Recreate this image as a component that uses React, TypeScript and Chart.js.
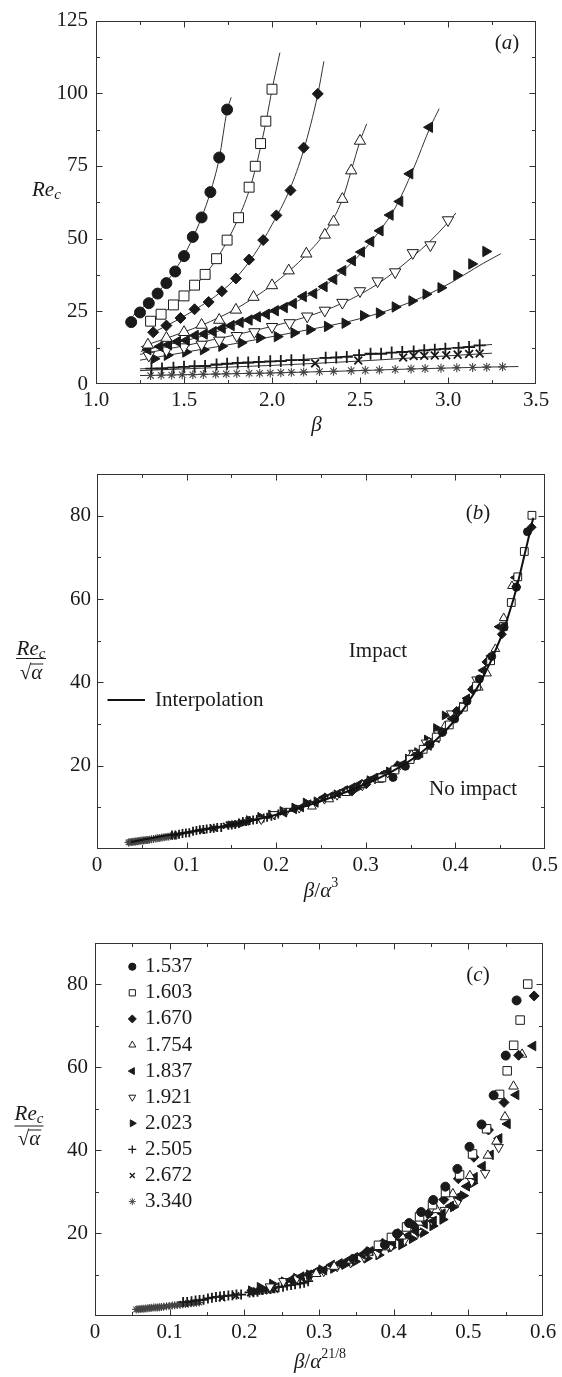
import React, { useEffect, useRef } from 'react';
import { Chart, registerables } from 'chart.js';
import { drawPoint } from 'chart.js/helpers';

Chart.register(...registerables);

const FONT = "'Liberation Serif', 'Times New Roman', Times, serif";
const INK = '#1a1a1a';
Chart.defaults.font.family = FONT;

// ---------- data: alpha values (legend) ----------
const ALPHA = [1.537, 1.603, 1.670, 1.754, 1.837, 1.921, 2.023, 2.505, 2.672, 3.340];
const ALPHA_LABELS = ['1.537', '1.603', '1.670', '1.754', '1.837', '1.921', '2.023', '2.505', '2.672', '3.340'];

// ---------- measured points (panel a: beta, Re_c) ----------
const BETA_1537 = [1.20, 1.25, 1.30, 1.35, 1.40, 1.45, 1.50, 1.55, 1.60, 1.65, 1.70, 1.745];
const RE_1537 = [21.3, 24.6, 27.8, 31.1, 34.7, 38.7, 44.0, 50.6, 57.3, 66.0, 77.9, 94.4];

const BETA_1603 = [1.31, 1.37, 1.44, 1.50, 1.56, 1.62, 1.685, 1.745, 1.81, 1.87, 1.905, 1.935, 1.965, 2.0];
const RE_1603 = [21.6, 24.0, 27.2, 30.3, 34.0, 37.7, 43.1, 49.5, 57.2, 67.7, 74.9, 82.7, 90.4, 101.4];

const BETA_1670 = [1.325, 1.40, 1.48, 1.56, 1.64, 1.715, 1.795, 1.87, 1.95, 2.025, 2.105, 2.18, 2.26];
const RE_1670 = [17.8, 20.1, 22.7, 25.7, 28.2, 31.9, 36.3, 42.8, 49.5, 58.0, 66.6, 81.3, 99.8];

const BETA_1754 = [1.295, 1.40, 1.50, 1.60, 1.70, 1.795, 1.895, 2.0, 2.095, 2.195, 2.30, 2.35, 2.40, 2.45, 2.50];
const RE_1754 = [13.5, 15.8, 17.8, 20.3, 22.0, 25.5, 29.9, 33.9, 39.0, 44.8, 51.3, 55.8, 63.6, 73.4, 83.6];

const BETA_1837 = [1.295, 1.363, 1.412, 1.463, 1.513, 1.564, 1.615, 1.666, 1.717, 1.768, 1.819, 1.870, 1.917, 1.968, 2.019, 2.070, 2.121, 2.178, 2.237, 2.296, 2.351, 2.402, 2.457, 2.508, 2.561, 2.614, 2.671, 2.726, 2.783, 2.895];
const RE_1837 = [11.8, 12.9, 13.5, 14.6, 15.0, 16.7, 17.2, 18.0, 19.2, 20.1, 21.2, 22.0, 23.1, 24.0, 25.2, 26.3, 27.7, 30.1, 31.1, 33.5, 36.0, 39.0, 42.4, 45.4, 49.0, 52.7, 58.1, 62.8, 72.3, 88.3];

const BETA_1921 = [1.30, 1.40, 1.50, 1.60, 1.70, 1.80, 1.90, 2.0, 2.10, 2.20, 2.30, 2.40, 2.50, 2.60, 2.70, 2.80, 2.90, 3.0];
const RE_1921 = [9.8, 11.6, 12.7, 13.6, 15.0, 16.6, 17.9, 19.7, 21.0, 23.3, 25.3, 28.0, 32.0, 35.4, 38.5, 45.1, 47.8, 56.4];

const BETA_2023 = [1.33, 1.405, 1.51, 1.61, 1.715, 1.825, 1.93, 2.03, 2.125, 2.215, 2.315, 2.415, 2.52, 2.61, 2.70, 2.795, 2.875, 2.96, 3.05, 3.135, 3.215];
const RE_2023 = [8.7, 9.9, 11.0, 11.8, 13.0, 14.2, 15.9, 16.3, 17.6, 18.7, 19.8, 20.9, 23.5, 24.4, 26.5, 28.6, 30.9, 33.1, 37.4, 41.3, 45.6];

const BETA_2505 = [1.315, 1.375, 1.44, 1.50, 1.56, 1.62, 1.685, 1.745, 1.805, 1.865, 1.925, 1.99, 2.05, 2.11, 2.18, 2.305, 2.365, 2.425, 2.495, 2.56, 2.62, 2.68, 2.74, 2.805, 2.865, 2.925, 2.985, 3.06, 3.12, 3.18];
const RE_2505 = [5.3, 5.3, 5.6, 5.9, 6.1, 6.2, 6.7, 7.0, 7.3, 7.4, 7.6, 7.8, 7.9, 8.2, 8.2, 9.0, 9.1, 9.3, 9.9, 10.4, 10.4, 10.8, 11.0, 11.2, 11.6, 11.8, 12.1, 12.4, 12.7, 13.3];

const BETA_2672 = [2.245, 2.49, 2.745, 2.805, 2.865, 2.925, 2.99, 3.055, 3.12, 3.18];
const RE_2672 = [7.1, 8.1, 9.1, 9.6, 9.7, 9.8, 9.9, 10.1, 10.3, 10.5];

const BETA_3340 = [1.31, 1.37, 1.43, 1.49, 1.55, 1.61, 1.68, 1.74, 1.80, 1.87, 1.93, 1.99, 2.05, 2.11, 2.18, 2.27, 2.35, 2.45, 2.53, 2.61, 2.70, 2.79, 2.87, 2.96, 3.05, 3.14, 3.22, 3.31];
const RE_3340 = [2.9, 3.0, 3.1, 3.2, 3.2, 3.3, 3.4, 3.5, 3.6, 3.7, 3.7, 3.8, 3.9, 4.0, 4.1, 4.3, 4.4, 4.6, 4.7, 4.8, 5.0, 5.2, 5.3, 5.4, 5.6, 5.7, 5.8, 5.9];

// ---------- fitted curves in panel a ----------
const FIT_BETA_1537 = [1.21, 1.30, 1.40, 1.50, 1.60, 1.65, 1.70, 1.745, 1.768];
const FIT_RE_1537 = [23.5, 28.2, 35.0, 44.2, 57.3, 66.0, 77.6, 94.0, 98.6];
const FIT_BETA_1603 = [1.31, 1.40, 1.50, 1.60, 1.70, 1.80, 1.87, 1.91, 1.94, 1.97, 2.00, 2.045];
const FIT_RE_1603 = [21.8, 25.3, 30.3, 36.2, 44.4, 55.8, 66.5, 75.0, 82.8, 91.5, 101.2, 114.0];
const FIT_BETA_1670 = [1.32, 1.40, 1.50, 1.60, 1.70, 1.80, 1.90, 2.00, 2.10, 2.18, 2.26, 2.295];
const FIT_RE_1670 = [17.6, 20.0, 23.3, 27.0, 31.2, 36.8, 44.6, 54.8, 66.8, 80.5, 99.6, 111.0];
const FIT_BETA_1754 = [1.255, 1.30, 1.40, 1.50, 1.60, 1.70, 1.80, 1.90, 2.00, 2.10, 2.20, 2.30, 2.40, 2.45, 2.50, 2.538];
const FIT_RE_1754 = [12.8, 13.7, 15.7, 17.9, 20.2, 22.9, 26.0, 29.8, 34.0, 39.0, 44.8, 52.0, 63.5, 73.3, 83.5, 89.5];
const FIT_BETA_1837 = [1.255, 1.30, 1.40, 1.50, 1.60, 1.70, 1.80, 1.90, 2.00, 2.10, 2.20, 2.30, 2.40, 2.50, 2.60, 2.70, 2.80, 2.90, 2.95];
const FIT_RE_1837 = [11.2, 12.0, 13.4, 14.8, 16.4, 18.3, 20.5, 22.6, 24.8, 27.3, 30.2, 33.8, 38.7, 44.6, 51.8, 60.6, 73.5, 88.5, 94.7];
const FIT_BETA_1921 = [1.25, 1.30, 1.40, 1.50, 1.60, 1.70, 1.80, 1.90, 2.00, 2.10, 2.20, 2.30, 2.40, 2.50, 2.60, 2.70, 2.80, 2.90, 3.00, 3.045];
const FIT_RE_1921 = [10.2, 10.8, 12.0, 13.1, 14.4, 15.7, 17.0, 18.4, 19.8, 21.4, 23.2, 25.3, 27.8, 30.8, 34.4, 38.8, 43.8, 49.2, 55.6, 58.8];
const FIT_BETA_2023 = [1.25, 1.40, 1.60, 1.80, 2.00, 2.20, 2.40, 2.60, 2.80, 3.00, 3.20, 3.30];
const FIT_RE_2023 = [8.2, 9.8, 11.9, 14.0, 16.3, 18.6, 21.0, 24.2, 28.5, 34.3, 41.5, 44.8];
const FIT_BETA_2505 = [1.25, 1.50, 1.75, 2.00, 2.25, 2.50, 2.75, 3.00, 3.25];
const FIT_RE_2505 = [5.2, 5.9, 6.8, 7.7, 8.8, 9.9, 11.1, 12.3, 13.6];
const FIT_BETA_2672 = [1.25, 1.50, 1.75, 2.00, 2.25, 2.50, 2.75, 3.00, 3.25];
const FIT_RE_2672 = [4.6, 5.2, 5.8, 6.4, 7.1, 7.9, 8.8, 9.7, 10.6];
const FIT_BETA_3340 = [1.25, 1.50, 1.75, 2.00, 2.25, 2.50, 2.75, 3.00, 3.25, 3.40];
const FIT_RE_3340 = [2.9, 3.2, 3.5, 3.8, 4.2, 4.6, 5.1, 5.5, 5.85, 6.0];

// ---------- interpolation curve of panel b (beta/alpha^3, Re_c/sqrt(alpha)) ----------
const INTERP_X = [0.038, 0.06, 0.10, 0.15, 0.20, 0.25, 0.30, 0.33, 0.36, 0.39, 0.41, 0.43, 0.45, 0.465, 0.475, 0.487];
const INTERP_Y = [1.7, 2.6, 4.0, 5.8, 8.2, 11.5, 15.6, 18.7, 22.8, 28.6, 33.8, 40.8, 50.3, 60.0, 68.5, 79.5];

// ---------- tick values ----------
const X_TICKS_A = [1.0, 1.5, 2.0, 2.5, 3.0, 3.5];
const X_MINOR_A = [1.25, 1.75, 2.25, 2.75, 3.25];
const Y_TICKS_A = [0, 25, 50, 75, 100, 125];
const Y_MINOR_A = [12.5, 37.5, 62.5, 87.5, 112.5];
const X_TICKS_B = [0, 0.1, 0.2, 0.3, 0.4, 0.5];
const X_MINOR_B = [0.05, 0.15, 0.25, 0.35, 0.45];
const X_TICKS_C = [0, 0.1, 0.2, 0.3, 0.4, 0.5, 0.6];
const X_MINOR_C = [0.05, 0.15, 0.25, 0.35, 0.45, 0.55];
const Y_TICKS_BC = [20, 40, 60, 80];
const Y_MINOR_BC = [10, 30, 50, 70];

const BETA_SETS = [BETA_1537, BETA_1603, BETA_1670, BETA_1754, BETA_1837, BETA_1921, BETA_2023, BETA_2505, BETA_2672, BETA_3340];
const RE_SETS = [RE_1537, RE_1603, RE_1670, RE_1754, RE_1837, RE_1921, RE_2023, RE_2505, RE_2672, RE_3340];
const FIT_BETA_SETS = [FIT_BETA_1537, FIT_BETA_1603, FIT_BETA_1670, FIT_BETA_1754, FIT_BETA_1837, FIT_BETA_1921, FIT_BETA_2023, FIT_BETA_2505, FIT_BETA_2672, FIT_BETA_3340];
const FIT_RE_SETS = [FIT_RE_1537, FIT_RE_1603, FIT_RE_1670, FIT_RE_1754, FIT_RE_1837, FIT_RE_1921, FIT_RE_2023, FIT_RE_2505, FIT_RE_2672, FIT_RE_3340];

// ---------- marker styles ----------
type Marker = { ps: string; filled: boolean; rot: number; rA: number; rB: number; rC: number; rL: number; w: number; color: string };
const MARKERS: Marker[] = [
  { ps: 'circle', filled: true, rot: 0, rA: 5.5, rB: 4, rC: 4.5, rL: 3.6, w: 1, color: INK },
  { ps: 'rect', filled: false, rot: 0, rA: 7, rB: 5.5, rC: 6, rL: 4.4, w: 1, color: INK },
  { ps: 'rectRot', filled: true, rot: 0, rA: 5.5, rB: 4.5, rC: 5, rL: 4, w: 1, color: INK },
  { ps: 'triangle', filled: false, rot: 0, rA: 6.5, rB: 5, rC: 5.5, rL: 4, w: 1, color: INK },
  { ps: 'triangle', filled: true, rot: 270, rA: 6, rB: 5, rC: 5.5, rL: 4, w: 1, color: INK },
  { ps: 'triangle', filled: false, rot: 180, rA: 6.5, rB: 5, rC: 5.5, rL: 4, w: 1, color: INK },
  { ps: 'triangle', filled: true, rot: 90, rA: 6, rB: 5, rC: 5.5, rL: 4, w: 1, color: INK },
  { ps: 'cross', filled: false, rot: 0, rA: 6, rB: 4.5, rC: 5, rL: 4, w: 1.8, color: INK },
  { ps: 'crossRot', filled: false, rot: 0, rA: 5.5, rB: 4, rC: 4.5, rL: 3.5, w: 1.8, color: INK },
  { ps: 'star', filled: false, rot: 0, rA: 4.5, rB: 4, rC: 4, rL: 3.5, w: 1.1, color: '#444' },
];

// ---------- panel geometry ----------
type PanelCfg = {
  key: string; top: number; height: number; left: number; right: number; areaTop: number; areaBottom: number;
  xMin: number; xMax: number; yMin: number; yMax: number;
  xTicks: number[]; xMinor: number[]; yTicks: number[]; yMinor: number[];
  xFmt: (v: number) => string; yPad: number;
};
const W = 562;
const PANEL_A: PanelCfg = { key: 'a', top: 0, height: 445, left: 96, right: 536, areaTop: 17, areaBottom: 384, xMin: 1, xMax: 3.5, yMin: 0, yMax: 125, xTicks: X_TICKS_A, xMinor: X_MINOR_A, yTicks: Y_TICKS_A, yMinor: Y_MINOR_A, xFmt: (v) => v.toFixed(1), yPad: 8 };
const PANEL_B: PanelCfg = { key: 'b', top: 445, height: 465, left: 97, right: 547, areaTop: 29, areaBottom: 404, xMin: 0, xMax: 0.5, yMin: 0, yMax: 90, xTicks: X_TICKS_B, xMinor: X_MINOR_B, yTicks: Y_TICKS_BC, yMinor: Y_MINOR_BC, xFmt: (v) => (v === 0 ? '0' : v.toFixed(1)), yPad: 6 };
const PANEL_C: PanelCfg = { key: 'c', top: 910, height: 467, left: 95, right: 543, areaTop: 33, areaBottom: 406, xMin: 0, xMax: 0.6, yMin: 0, yMax: 90, xTicks: X_TICKS_C, xMinor: X_MINOR_C, yTicks: Y_TICKS_BC, yMinor: Y_MINOR_BC, xFmt: (v) => (v === 0 ? '0' : v.toFixed(1)), yPad: 7 };
const X_AXIS_H = 30;

// ---------- text helpers ----------
type Part = { t: string; it?: boolean; sz?: number; dy?: number };
function fontOf(p: Part, base: number) {
  return `${p.it ? 'italic ' : ''}${p.sz ?? base}px ${FONT}`;
}
function drawParts(ctx: CanvasRenderingContext2D, parts: Part[], x: number, y: number, align: 'left' | 'center' | 'right', base = 21) {
  ctx.save();
  ctx.textBaseline = 'middle';
  ctx.textAlign = 'left';
  ctx.fillStyle = INK;
  const widths = parts.map((p) => { ctx.font = fontOf(p, base); return ctx.measureText(p.t).width; });
  const total = widths.reduce((a, b) => a + b, 0);
  let cx = align === 'left' ? x : align === 'center' ? x - total / 2 : x - total;
  parts.forEach((p, i) => {
    ctx.font = fontOf(p, base);
    ctx.fillText(p.t, cx, y + (p.dy ?? 0));
    cx += widths[i];
  });
  ctx.restore();
}
function drawFraction(ctx: CanvasRenderingContext2D, cx: number, yNum: number, yBar: number, yDen: number, half: number) {
  drawParts(ctx, [{ t: 'Re', it: true }, { t: 'c', it: true, sz: 15, dy: 5 }], cx, yNum, 'center');
  ctx.save();
  ctx.strokeStyle = INK;
  ctx.lineWidth = 1;
  ctx.beginPath();
  ctx.moveTo(cx - half, yBar);
  ctx.lineTo(cx + half, yBar);
  ctx.stroke();
  ctx.textBaseline = 'middle';
  ctx.fillStyle = INK;
  ctx.font = `21px ${FONT}`;
  const wS = ctx.measureText('√').width;
  ctx.font = `italic 21px ${FONT}`;
  const wA = ctx.measureText('α').width;
  const x0 = cx - (wS + wA) / 2;
  ctx.font = `21px ${FONT}`;
  ctx.fillText('√', x0, yDen);
  ctx.font = `italic 21px ${FONT}`;
  ctx.fillText('α', x0 + wS, yDen);
  ctx.beginPath();
  ctx.moveTo(x0 + wS - 1, yDen - 9.5);
  ctx.lineTo(x0 + wS + wA + 1, yDen - 9.5);
  ctx.stroke();
  ctx.restore();
}

// ---------- plugin: frame, inward ticks, annotations ----------
function framePlugin(cfg: PanelCfg, extra: (ctx: CanvasRenderingContext2D, chart: any) => void) {
  return {
    id: 'frame_' + cfg.key,
    afterDraw(chart: any) {
      const { ctx, chartArea: ca, scales } = chart;
      const xs = scales.x;
      const ys = scales.y;
      const L = Math.round(ca.left) + 0.5;
      const R = Math.round(ca.right) - 0.5;
      const T = Math.round(ca.top) + 0.5;
      const B = Math.round(ca.bottom) - 0.5;
      ctx.save();
      ctx.strokeStyle = '#333';
      ctx.lineWidth = 1;
      ctx.strokeRect(L, T, R - L, B - T);
      ctx.beginPath();
      const xGroups: [number[], number][] = [[cfg.xTicks, 6], [cfg.xMinor, 3.5]];
      xGroups.forEach(([vals, len]) => vals.forEach((v) => {
        const px = Math.round(xs.getPixelForValue(v)) + 0.5;
        if (px <= L + 1 || px >= R - 1) return;
        ctx.moveTo(px, B); ctx.lineTo(px, B - len);
        ctx.moveTo(px, T); ctx.lineTo(px, T + len);
      }));
      const yGroups: [number[], number][] = [[cfg.yTicks, 6], [cfg.yMinor, 3.5]];
      yGroups.forEach(([vals, len]) => vals.forEach((v) => {
        const py = Math.round(ys.getPixelForValue(v)) + 0.5;
        if (py <= T + 1 || py >= B - 1) return;
        ctx.moveTo(L, py); ctx.lineTo(L + len, py);
        ctx.moveTo(R, py); ctx.lineTo(R - len, py);
      }));
      ctx.stroke();
      ctx.restore();
      extra(ctx, chart);
    },
  };
}

// ---------- dataset builders ----------
function markerDataset(i: number, pts: { x: number; y: number }[], r: number) {
  const m = MARKERS[i];
  const fill = m.filled ? m.color : '#ffffff';
  return {
    label: ALPHA_LABELS[i],
    data: pts,
    showLine: false,
    pointStyle: m.ps,
    pointRotation: m.rot,
    pointRadius: r,
    pointHoverRadius: r,
    pointBorderWidth: m.w,
    pointBorderColor: m.color,
    pointBackgroundColor: fill,
    borderColor: m.color,
    backgroundColor: fill,
  };
}
function lineDataset(label: string, pts: { x: number; y: number }[], width: number, color: string) {
  return {
    label,
    data: pts,
    showLine: true,
    pointRadius: 0,
    pointHoverRadius: 0,
    borderColor: color,
    borderWidth: width,
    cubicInterpolationMode: 'monotone',
    fill: false,
  };
}
const zip = (xs: number[], ys: number[]) => xs.map((x, j) => ({ x, y: ys[j] }));

function datasetsA() {
  const marks = BETA_SETS.map((b, i) => markerDataset(i, zip(b, RE_SETS[i]), MARKERS[i].rA));
  const fits = FIT_BETA_SETS.map((b, i) => lineDataset('fit ' + ALPHA_LABELS[i], zip(b, FIT_RE_SETS[i]), 1, '#333'));
  return [...marks, ...fits];
}
function datasetsB() {
  const interp = lineDataset('Interpolation', zip(INTERP_X, INTERP_Y), 2, '#111');
  const marks = BETA_SETS.map((b, i) => markerDataset(i, b.map((v, j) => ({ x: v / Math.pow(ALPHA[i], 3), y: RE_SETS[i][j] / Math.sqrt(ALPHA[i]) })), MARKERS[i].rB));
  return [interp, ...marks];
}
function datasetsC() {
  return BETA_SETS.map((b, i) => markerDataset(i, b.map((v, j) => ({ x: v / Math.pow(ALPHA[i], 21 / 8), y: RE_SETS[i][j] / Math.sqrt(ALPHA[i]) })), MARKERS[i].rC));
}

// ---------- annotations ----------
function extraA(ctx: CanvasRenderingContext2D) {
  drawParts(ctx, [{ t: '(' }, { t: 'a', it: true }, { t: ')' }], 507, 43, 'center');
  drawParts(ctx, [{ t: 'Re', it: true }, { t: 'c', it: true, sz: 15, dy: 5 }], 32, 190, 'left');
  drawParts(ctx, [{ t: 'β', it: true }], 316.5, 425, 'center');
}
function extraB(ctx: CanvasRenderingContext2D) {
  drawParts(ctx, [{ t: '(' }, { t: 'b', it: true }, { t: ')' }], 478, 68, 'center');
  drawParts(ctx, [{ t: 'Impact' }], 378, 206, 'center');
  drawParts(ctx, [{ t: 'No impact' }], 473, 344, 'center');
  ctx.save();
  ctx.strokeStyle = '#111';
  ctx.lineWidth = 2;
  ctx.beginPath();
  ctx.moveTo(107.5, 255);
  ctx.lineTo(145, 255);
  ctx.stroke();
  ctx.restore();
  drawParts(ctx, [{ t: 'Interpolation' }], 155, 255, 'left');
  drawFraction(ctx, 31, 204, 213.5, 228.5, 15);
  drawParts(ctx, [{ t: 'β', it: true }, { t: '/' }, { t: 'α', it: true }, { t: '3', sz: 14, dy: -8 }], 321, 446.5, 'center');
}
function extraC(ctx: CanvasRenderingContext2D, chart: any) {
  drawParts(ctx, [{ t: '(' }, { t: 'c', it: true }, { t: ')' }], 478, 65, 'center');
  drawFraction(ctx, 29, 204.5, 216, 229.5, 14.5);
  drawParts(ctx, [{ t: 'β', it: true }, { t: '/' }, { t: 'α', it: true }, { t: '21/8', sz: 14, dy: -8 }], 320, 452, 'center');
  // legend built from the chart's own datasets
  chart.data.datasets.forEach((ds: any, i: number) => {
    const m = MARKERS[i];
    const y = 56.7 + i * 26.1;
    ctx.save();
    ctx.fillStyle = m.filled ? m.color : '#ffffff';
    ctx.strokeStyle = m.color;
    ctx.lineWidth = m.w > 1.5 ? 1.3 : 1;
    drawPoint(ctx, { pointStyle: m.ps as any, rotation: m.rot, radius: m.rL, borderWidth: 1 } as any, 132.3, y);
    ctx.restore();
    drawParts(ctx, [{ t: ds.label }], 145, y, 'left');
  });
}

function makeOptions(cfg: PanelCfg): any {
  const tickFont = { family: FONT, size: 21 };
  return {
    animation: false,
    responsive: false,
    devicePixelRatio: 1,
    events: [],
    layout: { padding: { left: 0, top: cfg.areaTop, right: W - cfg.right, bottom: cfg.height - cfg.areaBottom - X_AXIS_H } },
    plugins: { legend: { display: false }, tooltip: { enabled: false } },
    scales: {
      x: {
        type: 'linear', min: cfg.xMin, max: cfg.xMax,
        grid: { display: false, drawTicks: false }, border: { display: false },
        afterBuildTicks: (s: any) => { s.ticks = cfg.xTicks.map((v) => ({ value: v })); },
        afterFit: (s: any) => { s.height = X_AXIS_H; },
        ticks: { font: tickFont, color: INK, padding: 4, autoSkip: false, maxRotation: 0, callback: (v: any) => cfg.xFmt(Number(v)) },
      },
      y: {
        type: 'linear', min: cfg.yMin, max: cfg.yMax,
        grid: { display: false, drawTicks: false }, border: { display: false },
        afterBuildTicks: (s: any) => { s.ticks = cfg.yTicks.map((v) => ({ value: v })); },
        afterFit: (s: any) => { s.width = cfg.left; },
        ticks: { font: tickFont, color: INK, padding: cfg.yPad, autoSkip: false, callback: (v: any) => String(v) },
      },
    },
  };
}

function Panel({ cfg, build, extra }: { cfg: PanelCfg; build: () => any[]; extra: (ctx: CanvasRenderingContext2D, chart: any) => void }) {
  const ref = useRef<HTMLCanvasElement>(null);
  useEffect(() => {
    if (!ref.current) return;
    const chart = new Chart(ref.current, {
      type: 'scatter',
      data: { datasets: build() as any },
      options: makeOptions(cfg),
      plugins: [framePlugin(cfg, extra) as any],
    });
    return () => chart.destroy();
  }, []);
  return (
    <canvas
      ref={ref}
      width={W}
      height={cfg.height}
      style={{ position: 'absolute', left: 0, top: cfg.top, width: W, height: cfg.height, display: 'block' }}
    />
  );
}

export default function App() {
  return (
    <div style={{ position: 'absolute', left: 0, top: 0, width: W, height: 1377, background: '#ffffff', overflow: 'hidden' }}>
      <Panel cfg={PANEL_A} build={datasetsA} extra={extraA} />
      <Panel cfg={PANEL_B} build={datasetsB} extra={extraB} />
      <Panel cfg={PANEL_C} build={datasetsC} extra={extraC} />
    </div>
  );
}
